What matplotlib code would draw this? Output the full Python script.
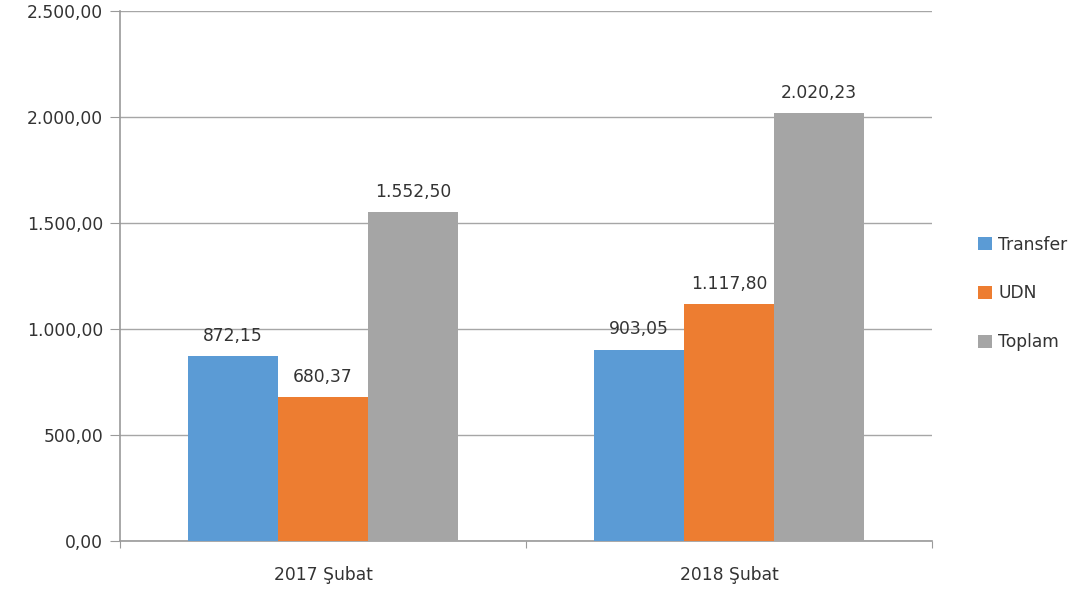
import matplotlib.pyplot as plt
import numpy as np

plt.rcParams['font.family'] = ['DejaVu Sans']

# Data
categories = ['2017 Şubat', '2018 Şubat']
series_names = ['Transfer', 'UDN', 'Toplam']
transfer = [872.15, 903.05]
udn = [680.37, 1117.80]
toplam = [1552.50, 2020.23]
yticks = [0, 500, 1000, 1500, 2000, 2500]

colors = ['#5B9BD5', '#ED7D31', '#A5A5A5']
axis_color = '#9a9a9a'
text_color = '#333333'
fs = 12.3


def tr_fmt(v):
    s = f'{v:,.2f}'
    return s.replace(',', 'X').replace('.', ',').replace('X', '.')


fig = plt.figure(figsize=(10.84, 5.95), dpi=100)
ax = fig.add_axes([0.1107, 0.0908, 0.749, 0.8907])

x = np.arange(len(categories))
bar_width = 0.222

for i, (vals, name) in enumerate(zip([transfer, udn, toplam], series_names)):
    bars = ax.bar(x + (i - 1) * bar_width, vals, width=bar_width,
                  color=colors[i], label=name, zorder=3)
    for bar in bars:
        h = bar.get_height()
        ax.annotate(tr_fmt(h), (bar.get_x() + bar.get_width() / 2, h),
                    xytext=(0, 8), textcoords='offset points',
                    ha='center', va='bottom', fontsize=fs, color=text_color)

ax.set_xlim(-0.5, 1.5)
ax.set_ylim(0, 2500)
ax.set_yticks(yticks)
ax.set_yticklabels([tr_fmt(v) for v in yticks], fontsize=fs, color=text_color)
ax.yaxis.grid(True, color='#a6a6a6', linewidth=1, zorder=0)

# category ticks at boundaries, labels centred
ax.set_xticks([-0.5, 0.5, 1.5])
ax.set_xticklabels([])
ax.set_xticks(x, minor=True)
ax.set_xticklabels(categories, minor=True, fontsize=fs, color=text_color)
ax.tick_params(axis='x', which='minor', length=0, pad=18)
ax.tick_params(axis='x', which='major', length=5, color=axis_color)
ax.tick_params(axis='y', length=7, color=axis_color, pad=5)

for side in ['top', 'right']:
    ax.spines[side].set_visible(False)
for side in ['left', 'bottom']:
    ax.spines[side].set_color(axis_color)
    ax.spines[side].set_linewidth(1.2)

fig.legend(loc='center left', bbox_to_anchor=(0.888, 0.507), frameon=False,
           fontsize=fs, labelspacing=1.8, handlelength=0.8, handleheight=0.8,
           handletextpad=0.4, labelcolor=text_color)

fig.savefig('out.png', dpi=100)
